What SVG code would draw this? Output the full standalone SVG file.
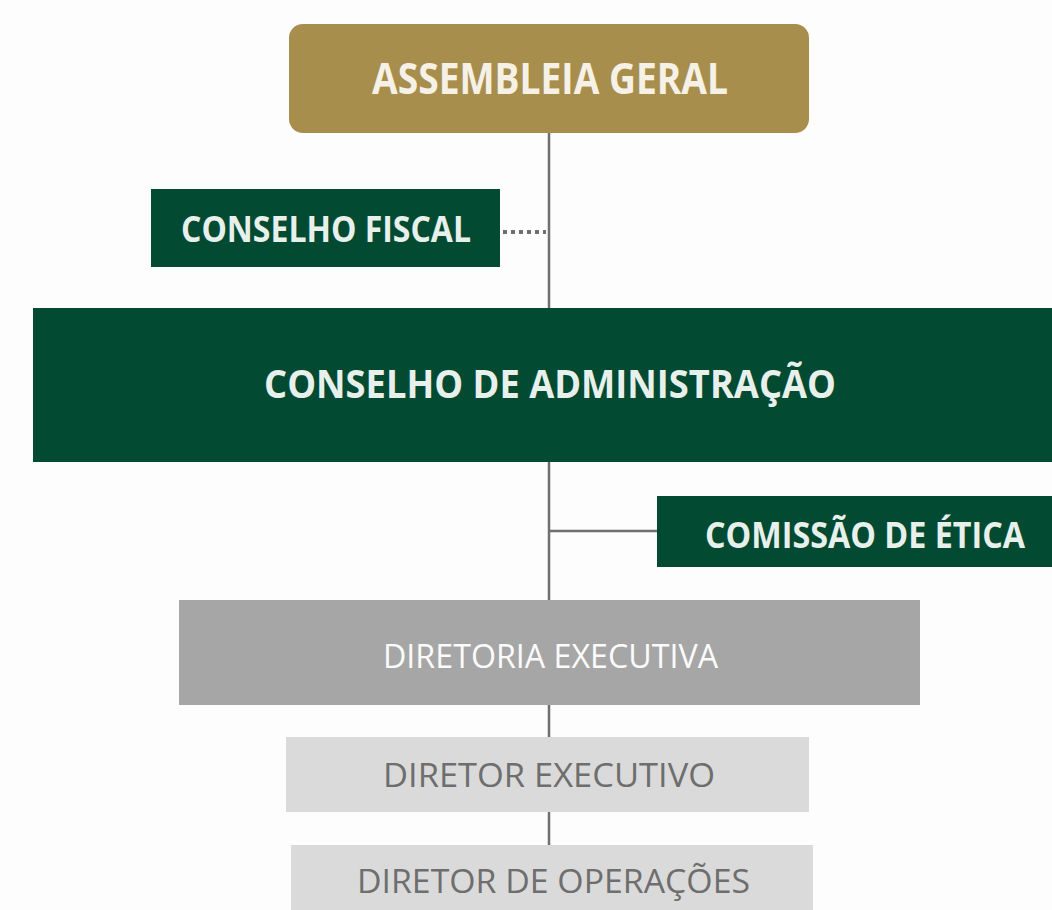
<svg xmlns="http://www.w3.org/2000/svg" width="1052" height="910" viewBox="0 0 1052 910">
<style>
.t{font-family:"Open Sans","Liberation Sans",sans-serif;text-anchor:start}
.b{font-weight:bold;fill:#e8f0eb}
.green{fill:#034a33}
.line{stroke:#6f6f6f;stroke-width:2.5;fill:none}
</style>
<rect width="1052" height="910" fill="#fefdfe"/>
<g id="connectors">
<line class="line" x1="549" y1="133" x2="549" y2="309"/>
<line x1="503" y1="232" x2="546" y2="232" stroke="#6f6f6f" stroke-width="4" stroke-dasharray="4,4"/>
<line class="line" x1="549" y1="462" x2="549" y2="600"/>
<line class="line" x1="549" y1="531" x2="657" y2="531"/>
<line class="line" x1="549" y1="705" x2="549" y2="737"/>
<line class="line" x1="549" y1="812" x2="549" y2="845"/>
</g>
<g id="assembleia">
<rect x="289" y="24" width="520" height="109" rx="14" fill="#a88e4c"/>
<text class="t" x="372" y="94" font-size="43" font-weight="bold" fill="#f6f1e6" textLength="356" lengthAdjust="spacingAndGlyphs">ASSEMBLEIA GERAL</text>
</g>
<g id="conselho-fiscal">
<rect class="green" x="151" y="189" width="349" height="78"/>
<text class="t b" x="181" y="242" font-size="36" textLength="290" lengthAdjust="spacingAndGlyphs">CONSELHO FISCAL</text>
</g>
<g id="conselho-administracao">
<rect class="green" x="33" y="308" width="1019" height="154"/>
<text class="t b" x="264" y="398" font-size="39" textLength="572" lengthAdjust="spacingAndGlyphs">CONSELHO DE ADMINISTRAÇÃO</text>
</g>
<g id="comissao-etica">
<rect class="green" x="657" y="496" width="395" height="71"/>
<text class="t b" x="705" y="548" font-size="35" textLength="320" lengthAdjust="spacingAndGlyphs">COMISSÃO DE ÉTICA</text>
</g>
<g id="diretoria-executiva">
<rect x="179" y="600" width="741" height="105" fill="#a6a6a6"/>
<text class="t" x="383" y="668" font-size="32" fill="#fbfbfb" textLength="335" lengthAdjust="spacingAndGlyphs">DIRETORIA EXECUTIVA</text>
</g>
<g id="diretor-executivo">
<rect x="286" y="737" width="523" height="75" fill="#dadada"/>
<text class="t" x="383" y="787" font-size="32" fill="#6e6e6e" textLength="332" lengthAdjust="spacingAndGlyphs">DIRETOR EXECUTIVO</text>
</g>
<g id="diretor-operacoes">
<rect x="291" y="845" width="522" height="70" fill="#dadada"/>
<text class="t" x="357" y="893" font-size="32" fill="#6e6e6e" textLength="393" lengthAdjust="spacingAndGlyphs">DIRETOR DE OPERAÇÕES</text>
</g>
</svg>
